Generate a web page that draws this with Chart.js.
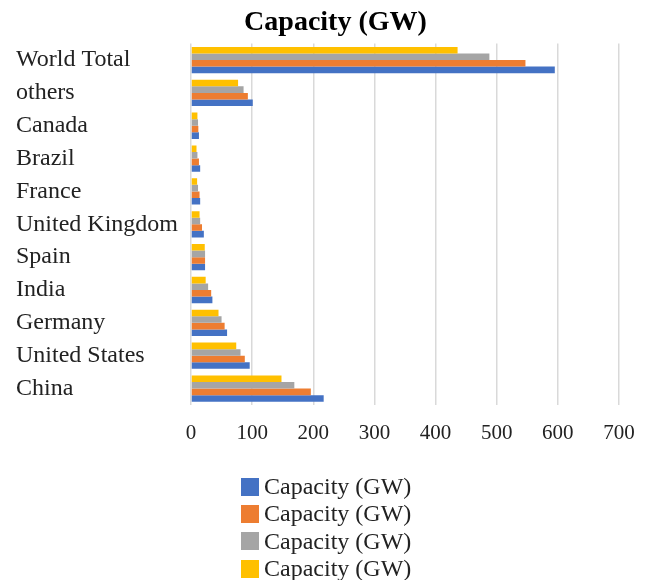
<!DOCTYPE html>
<html>
<head>
<meta charset="utf-8">
<script src="https://cdn.jsdelivr.net/npm/chart.js@4.4.1/dist/chart.umd.min.js"></script>
<style>
  html,body{margin:0;padding:0;background:#fff;}
  .wrap{position:relative;width:648px;height:580px;}
  #legend{position:absolute;left:241px;top:473px;font-family:"Liberation Serif",serif;font-size:24px;color:#222;}
  #legend .item{display:flex;align-items:center;height:27.3px;}
  #legend .box{width:18px;height:18px;margin-right:5px;}
</style>
</head>
<body>
<div class="wrap">
  <canvas id="chart" width="648" height="580"></canvas>
  <div id="legend"></div>
</div>
<script>
// datos
const countries = ['China','United States','Germany','India','Spain','United Kingdom','France','Brazil','Canada','others','World Total'];
const seriesNames = ['Capacity (GW)','Capacity (GW)','Capacity (GW)','Capacity (GW)'];
const blueVals   = [217, 96, 59, 35, 23, 21, 15, 15, 13, 101, 595];
const orangeVals = [196, 88, 55, 33, 23, 18, 14, 13, 12, 93, 547];
const grayVals   = [169, 81, 50, 28, 23, 15, 11.5, 10.5, 11.5, 86, 488];
const yellowVals = [148, 74, 45, 24, 22.5, 14, 10, 9, 10.5, 77, 436];
const colors = ['#4472C4','#ED7D31','#A5A5A5','#FFC000'];
const xTicks = [0,100,200,300,400,500,600,700];

const serif = '"Liberation Serif", "Times New Roman", serif';

const series = [blueVals, orangeVals, grayVals, yellowVals].map((vals,i)=>({
  label: seriesNames[i],
  data: vals,
  backgroundColor: colors[i],
  categoryPercentage: 0.8,
  barPercentage: 1.0
}));
// el primer dataset queda arriba en cada grupo: se invierte para que el azul quede abajo
const datasets = series.slice().reverse();

// el titulo del original esta algo desplazado a la derecha
const titleShift = {
  id: 'titleShift',
  afterLayout(chart){
    const t = chart.titleBlock;
    if (t){ t.left += 18; t.right += 18; }
  }
};

const chart = new Chart(document.getElementById('chart'), {
  type: 'bar',
  data: { labels: countries, datasets },
  plugins: [titleShift],
  options: {
    indexAxis: 'y',
    responsive: false,
    animation: false,
    layout: { padding: { left: 16, right: 29, top: 0, bottom: 134 } },
    plugins: {
      legend: { display: false },
      tooltip: { enabled: false },
      title: {
        display: true,
        text: 'Capacity (GW)',
        color: '#000',
        font: { family: serif, size: 28, weight: 'bold' },
        padding: { top: 6, bottom: 4 }
      }
    },
    scales: {
      y: {
        reverse: true,
        grid: { display: false, drawTicks: false },
        border: { display: false },
        ticks: {
          crossAlign: 'far',
          color: '#222',
          font: { family: serif, size: 24 }
        },
        afterFit(scale){ scale.width = 175; }
      },
      x: {
        min: 0,
        max: 700,
        afterBuildTicks(scale){ scale.ticks = xTicks.map(v=>({value:v})); },
        grid: { color: '#d9d9d9', lineWidth: 1.5, drawTicks: false },
        border: { display: false },
        ticks: {
          padding: 16,
          color: '#222',
          font: { family: serif, size: 21 }
        },
        afterFit(scale){ scale.height = 41; scale.paddingRight = 0; scale.paddingLeft = 0; }
      }
    }
  }
});

// leyenda vertical en HTML, en el orden original de las series
const legendBox = document.getElementById('legend');
series.forEach(ds=>{
  const it = document.createElement('div');
  it.className = 'item';
  it.innerHTML = `<span class="box" style="background:${ds.backgroundColor}"></span><span>${ds.label}</span>`;
  legendBox.appendChild(it);
});
</script>
</body>
</html>
